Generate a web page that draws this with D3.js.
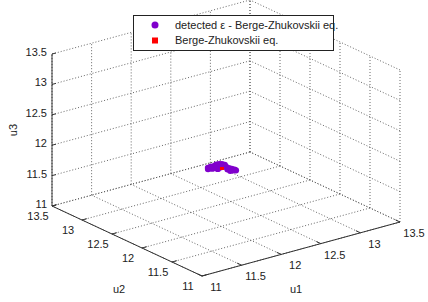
<!DOCTYPE html>
<html>
<head>
<meta charset="utf-8">
<script src="https://cdn.jsdelivr.net/npm/d3@7"></script>
<style>
  body { margin: 0; background: #fff; }
  svg { display: block; font-family: "Liberation Sans", Arial, Helvetica, sans-serif; font-size: 11px; }
</style>
</head>
<body>
<svg id="chart" width="428" height="302"></svg>
<script>
  // data
  var u1Ticks = [11, 11.5, 12, 12.5, 13, 13.5];
  var u2Ticks = [11, 11.5, 12, 12.5, 13, 13.5];
  var u3Ticks = [11, 11.5, 12, 12.5, 13, 13.5];

  // detected epsilon - Berge-Zhukovskii points
  var det_u1 = [11.94, 11.94, 11.96, 11.97, 11.99, 12.00, 12.02, 12.04, 12.06, 12.07, 12.09, 12.11, 12.13, 12.14, 12.10, 12.01, 11.98, 12.08, 12.03, 11.95, 12.12];
  var det_u2 = [12.14, 12.14, 12.12, 12.11, 12.09, 12.08, 12.06, 12.04, 12.02, 12.01, 11.99, 11.97, 11.95, 11.94, 11.98, 12.07, 12.10, 12.00, 12.05, 12.13, 11.96];
  var det_u3 = [11.92, 11.90, 11.94, 11.91, 11.96, 11.98, 11.99, 11.99, 11.98, 11.95, 11.93, 11.92, 11.91, 11.90, 11.89, 11.91, 11.93, 11.91, 11.94, 11.92, 11.90];

  // Berge-Zhukovskii equilibrium
  var bz_u1 = [12.04];
  var bz_u2 = [12.04];
  var bz_u3 = [11.92];

  var legendLabels = ["detected \u03b5 - Berge-Zhukovskii eq.", "Berge-Zhukovskii eq."];

  var svg = d3.select("#chart");

  var x1 = d3.scaleLinear().domain([11, 13.5]).range([0, 1]);
  var x2 = d3.scaleLinear().domain([11, 13.5]).range([0, 1]);
  var x3 = d3.scaleLinear().domain([11, 13.5]).range([0, 1]);

  // view: front corner and the three box edge vectors on screen
  var O = [202, 276], E1 = [198, -54], E2 = [-150, -70], E3 = [0, -152];
  function proj(a, b, c) {
    var fa = x1(a), fb = x2(b), fc = x3(c);
    return [O[0] + fa*E1[0] + fb*E2[0] + fc*E3[0],
            O[1] + fa*E1[1] + fb*E2[1] + fc*E3[1]];
  }

  var lo = 11, hi = 13.5;
  var grid = [];
  // floor
  u1Ticks.forEach(function(t){ grid.push([proj(t, lo, lo), proj(t, hi, lo)]); });
  u2Ticks.forEach(function(t){ grid.push([proj(lo, t, lo), proj(hi, t, lo)]); });
  // back wall u2 = hi
  u1Ticks.forEach(function(t){ grid.push([proj(t, hi, lo), proj(t, hi, hi)]); });
  u3Ticks.forEach(function(t){ grid.push([proj(lo, hi, t), proj(hi, hi, t)]); });
  // side wall u1 = hi
  u2Ticks.forEach(function(t){ grid.push([proj(hi, t, lo), proj(hi, t, hi)]); });
  u3Ticks.forEach(function(t){ grid.push([proj(hi, lo, t), proj(hi, hi, t)]); });

  svg.append("g").selectAll("line").data(grid).enter().append("line")
    .attr("x1", function(d){ return d[0][0]; }).attr("y1", function(d){ return d[0][1]; })
    .attr("x2", function(d){ return d[1][0]; }).attr("y2", function(d){ return d[1][1]; })
    .style("stroke", "#555").style("stroke-width", 0.9).style("stroke-dasharray", "1,2");

  // axis lines
  var axes = [
    [proj(lo, lo, lo), proj(hi, lo, lo)],
    [proj(lo, lo, lo), proj(lo, hi, lo)],
    [proj(lo, hi, lo), proj(lo, hi, hi)]
  ];
  svg.append("g").selectAll("line").data(axes).enter().append("line")
    .attr("x1", function(d){ return d[0][0]; }).attr("y1", function(d){ return d[0][1]; })
    .attr("x2", function(d){ return d[1][0]; }).attr("y2", function(d){ return d[1][1]; })
    .style("stroke", "#333").style("stroke-width", 1);

  var ticks = svg.append("g");
  var lab = svg.append("g").style("fill", "#222");

  // u1 ticks
  u1Ticks.forEach(function(t){
    var p = proj(t, lo, lo);
    ticks.append("line").attr("x1", p[0]).attr("y1", p[1]).attr("x2", p[0] - 4.5).attr("y2", p[1] - 2.1)
      .style("stroke", "#333");
    lab.append("text").attr("x", p[0] + 14).attr("y", p[1] + 15).attr("text-anchor", "middle").text(t);
  });
  // u2 ticks
  u2Ticks.forEach(function(t){
    var p = proj(lo, t, lo);
    ticks.append("line").attr("x1", p[0]).attr("y1", p[1]).attr("x2", p[0] + 4.8).attr("y2", p[1] - 1.3)
      .style("stroke", "#333");
    lab.append("text").attr("x", p[0] - 14).attr("y", p[1] + 14).attr("text-anchor", "middle").text(t);
  });
  // u3 ticks
  u3Ticks.forEach(function(t){
    var p = proj(lo, hi, t);
    ticks.append("line").attr("x1", p[0]).attr("y1", p[1]).attr("x2", p[0] + 3.9).attr("y2", p[1] - 1)
      .style("stroke", "#333");
    lab.append("text").attr("x", p[0] - 5).attr("y", p[1] + 2).attr("text-anchor", "end").text(t);
  });

  // axis titles
  lab.append("text").attr("x", 296).attr("y", 293).attr("text-anchor", "middle").text("u1");
  lab.append("text").attr("x", 119).attr("y", 293).attr("text-anchor", "middle").text("u2");
  lab.append("text").attr("transform", "translate(17,130) rotate(-90)").attr("text-anchor", "middle").text("u3");

  // points
  var det = det_u1.map(function(v, i){ return proj(v, det_u2[i], det_u3[i]); });
  svg.append("g").selectAll("circle").data(det).enter().append("circle")
    .attr("cx", function(d){ return d[0]; }).attr("cy", function(d){ return d[1]; })
    .attr("r", 3.2).style("fill", "#8000cc");

  // equilibrium, mostly buried in the cloud
  var bz = bz_u1.map(function(v, i){ return proj(v, bz_u2[i], bz_u3[i]); });
  svg.append("g").selectAll("rect").data(bz).enter().append("rect")
    .attr("x", function(d){ return d[0] - 2; }).attr("y", function(d){ return d[1] - 1.5; })
    .attr("width", 4).attr("height", 3).style("fill", "#ff0000");

  // legend
  var lg = svg.append("g");
  lg.append("rect").attr("x", 133.5).attr("y", 15.5).attr("width", 200).attr("height", 35)
    .style("fill", "#fff").style("stroke", "#222").style("stroke-width", 1);
  lg.append("circle").attr("cx", 155).attr("cy", 25).attr("r", 3.5).style("fill", "#8000cc");
  lg.append("rect").attr("x", 152).attr("y", 37.5).attr("width", 6).attr("height", 6).style("fill", "#ff0000");
  lg.selectAll("text").data(legendLabels).enter().append("text")
    .attr("x", 175).attr("y", function(d, i){ return 29 + i*15; })
    .style("fill", "#222").text(function(d){ return d; });
</script>
</body>
</html>
